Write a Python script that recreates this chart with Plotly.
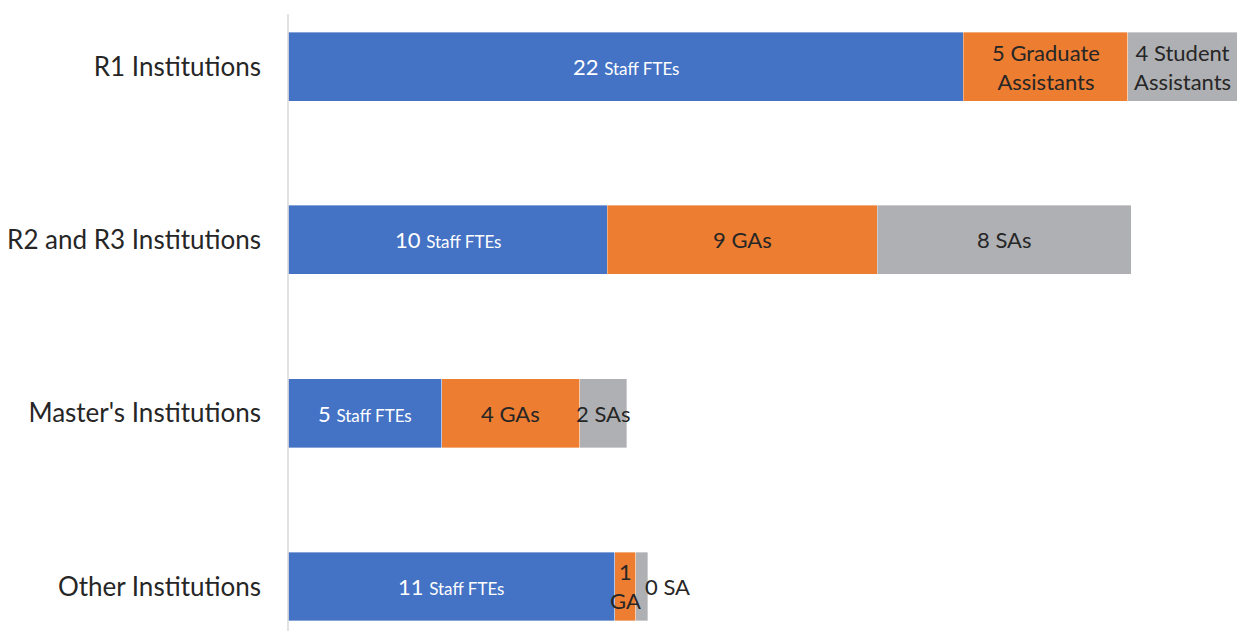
import plotly.graph_objects as go

categories = ["R1 Institutions", "R2 and R3 Institutions", "Master's Institutions", "Other Institutions"]
staff_fte = [22.0, 10.4, 5.0, 10.65]
grad_assistants = [5.35, 8.8, 4.5, 0.68]
student_assistants = [3.6, 8.27, 1.53, 0.39]

staff_labels = ["22", "10", "5", "11"]
ga_labels = ["5 Graduate<br>Assistants", "9 GAs", "4 GAs", "1<br>GA"]
sa_labels = ["4 Student<br>Assistants", "8 SAs", "2 SAs", "0 SA"]

BLUE = "#4472C4"
ORANGE = "#ED7D31"
GRAY = "#AFB0B3"
FONT = "Lato, 'Open Sans', sans-serif"

fig = go.Figure()
for vals, col in [(staff_fte, BLUE), (grad_assistants, ORANGE), (student_assistants, GRAY)]:
    fig.add_trace(go.Bar(
        y=categories, x=vals, orientation="h",
        marker=dict(color=col, line=dict(color="rgba(255,255,255,0.6)", width=0.6)),
        hoverinfo="skip", showlegend=False,
    ))

annotations = []
for i, cat in enumerate(categories):
    s, g, a = staff_fte[i], grad_assistants[i], student_assistants[i]
    annotations.append(dict(
        x=s / 2, y=cat, xref="x", yref="y", showarrow=False,
        text=f"{staff_labels[i]} <span style='font-size:17px'>Staff FTEs</span>",
        font=dict(family=FONT, size=22, color="white"),
    ))
    annotations.append(dict(
        x=s + g / 2, y=cat, xref="x", yref="y", showarrow=False,
        text=ga_labels[i], font=dict(family=FONT, size=22, color="#262626"),
    ))
    if i == 3:
        annotations.append(dict(
            x=s + g + a, y=cat, xref="x", yref="y", showarrow=False,
            xanchor="left", xshift=-5,
            text=sa_labels[i], font=dict(family=FONT, size=22, color="#262626"),
        ))
    else:
        annotations.append(dict(
            x=s + g + a / 2, y=cat, xref="x", yref="y", showarrow=False,
            text=sa_labels[i], font=dict(family=FONT, size=22, color="#262626"),
        ))

fig.update_layout(
    barmode="stack",
    bargap=0.602,
    width=1237, height=631,
    margin=dict(l=288, r=0, t=0, b=0),
    plot_bgcolor="white", paper_bgcolor="white",
    font=dict(family=FONT, color="#262626"),
    annotations=annotations,
    xaxis=dict(range=[0, 30.91], visible=False, showgrid=False, zeroline=False),
    yaxis=dict(
        type="category", categoryorder="array", categoryarray=categories,
        range=[3.2568, -0.3837],
        showgrid=False, zeroline=False, showline=False, ticks="",
        ticklabelstandoff=26,
        tickfont=dict(family=FONT, size=26, color="#262626"),
    ),
    shapes=[dict(type="line", xref="paper", yref="paper", x0=0, x1=0,
                 y0=0, y1=1 - 14 / 631, line=dict(color="#D9D9D9", width=1.5))],
)

fig.write_html("out.html")
